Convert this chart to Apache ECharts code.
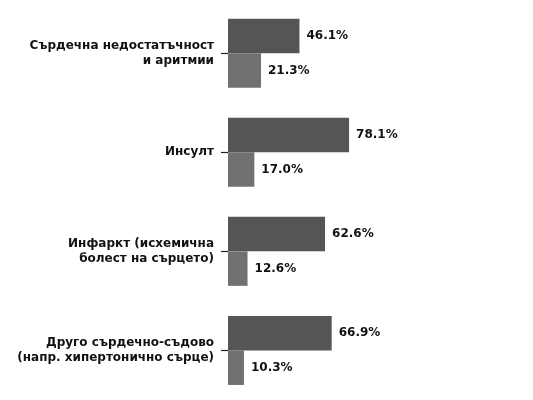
<!DOCTYPE html>
<html>
<head>
<meta charset="utf-8">
<script src="https://cdn.jsdelivr.net/npm/echarts@6/dist/echarts.min.js"></script>
<style>html,body{margin:0;padding:0;background:#fff}#c{width:533px;height:400px}</style>
</head>
<body>
<div id="c"></div>
<script>
const categories = [
  'Сърдечна недостатъчност\nи аритмии',
  'Инсулт',
  'Инфаркт (исхемична\nболест на сърцето)',
  'Друго сърдечно-съдово\n(напр. хипертонично сърце)'
];
const seriesA = [46.1, 78.1, 62.6, 66.9];
const seriesB = [21.3, 17.0, 12.6, 10.3];

const chart = echarts.init(document.getElementById('c'), null, {renderer: 'canvas'});
const labelStyle = {
  show: true, position: 'right', distance: 7,
  fontFamily: 'DejaVu Sans', fontWeight: 'bold', fontSize: 12, color: '#111',
  padding: [2, 0, 0, 0],
  formatter: p => p.value.toFixed(1) + '%'
};
chart.setOption({
  animation: false,
  backgroundColor: '#fff',
  grid: {left: 228, top: 3.6, width: 155, height: 397.6},
  xAxis: {type: 'value', min: 0, max: 100, show: false},
  yAxis: {
    type: 'category', data: categories, inverse: true,
    axisLine: {show: false},
    axisTick: {show: true, length: 7, alignWithLabel: true, lineStyle: {color: '#222', width: 1.2}},
    axisLabel: {margin: 14, fontFamily: 'DejaVu Sans', fontWeight: 'bold', fontSize: 12, color: '#111', lineHeight: 15, align: 'right', padding: [5, 0, 0, 0]}
  },
  series: [
    {type: 'bar', data: seriesA, barWidth: 34.5, barGap: '0%', itemStyle: {color: '#555555'}, label: labelStyle},
    {type: 'bar', data: seriesB, barWidth: 34.5, barGap: '0%', itemStyle: {color: '#717171'}, label: labelStyle}
  ]
});
</script>
</body>
</html>
